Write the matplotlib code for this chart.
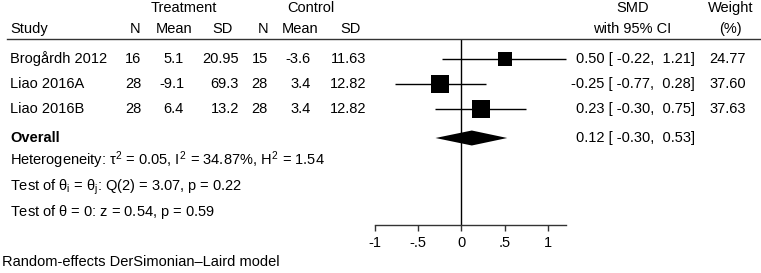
import numpy as np
import matplotlib
matplotlib.use('Agg')
import matplotlib.pyplot as plt
from matplotlib.patches import Polygon

### Data
studies = ['Brogårdh 2012', 'Liao 2016A', 'Liao 2016B']
trt_n = [16, 28, 28]
trt_mean = ['5.1', '-9.1', '6.4']
trt_sd = ['20.95', '69.3', '13.2']
ctl_n = [15, 28, 28]
ctl_mean = ['-3.6', '3.4', '3.4']
ctl_sd = ['11.63', '12.82', '12.82']
smd = [0.50, -0.25, 0.23]
ci_lo = [-0.22, -0.77, -0.30]
ci_hi = [1.21, 0.28, 0.75]
weight = [24.77, 37.60, 37.63]
overall = (0.12, -0.30, 0.53)
xticks = [-1, -0.5, 0, 0.5, 1]
xtick_labels = ['-1', '-.5', '0', '.5', '1']

het_txt = r'Heterogeneity: $\tau^2$ = 0.05, $I^2$ = 34.87%, $H^2$ = 1.54'
q_txt = r'Test of $\theta_i$ = $\theta_j$: Q(2) = 3.07, p = 0.22'
z_txt = r'Test of $\theta$ = 0: z = 0.54, p = 0.59'
foot_txt = 'Random-effects DerSimonian–Laird model'

### Layout (pixels)
W, H = 761, 273
row_y = [59, 84, 109]
ov_y = 138
fs = 10.5

plt.rcParams['font.family'] = ['Liberation Sans', 'DejaVu Sans']
plt.rcParams['mathtext.fontset'] = 'custom'
plt.rcParams['mathtext.rm'] = 'Liberation Sans'
plt.rcParams['mathtext.it'] = 'Liberation Sans'
plt.rcParams['mathtext.bf'] = 'Liberation Sans:bold'


def ftxt(fig, x, y, s, **kw):
    kw.setdefault('fontsize', fs)
    kw.setdefault('va', 'center')
    fig.text(x / W, 1 - y / H, s, **kw)


def main():
    fig = plt.figure(figsize=(W / 100, H / 100), dpi=100)

    ### Forest panel: x from -1 (px 375) to 1.21 (px 566), y from px 39 to 225
    x0, x1 = 375, 566
    y0, y1 = 39, 225
    ax = fig.add_axes([x0 / W, 1 - y1 / H, (x1 - x0) / W, (y1 - y0) / H])
    ax.set_xlim(-1, 1.21)
    ax.set_ylim(y1, y0)
    for sp in ['top', 'right', 'left']:
        ax.spines[sp].set_visible(False)
    ax.spines['bottom'].set_color('#333333')
    ax.spines['bottom'].set_linewidth(1.0)
    ax.set_yticks([])
    ax.set_xticks(xticks)
    ax.set_xticklabels(xtick_labels, fontsize=fs)
    ax.tick_params(axis='x', length=4, width=1.0, color='#333333', pad=4)
    ax.patch.set_visible(False)

    ax.axvline(0, color='black', lw=1.0, zorder=1)
    wmax = max(weight)
    for i in range(len(studies)):
        ax.plot([ci_lo[i], ci_hi[i]], [row_y[i]] * 2, color='black', lw=1.0,
                solid_capstyle='butt', clip_on=False, zorder=2)
        ms = 17.2 * np.sqrt(weight[i] / wmax) * 0.72
        ax.plot(smd[i], row_y[i], marker='s', ms=ms, color='black', mec='black',
                mew=0, clip_on=False, zorder=3)
    est, lo, hi = overall
    dh = 7.5
    ax.add_patch(Polygon([(lo, ov_y), (est, ov_y - dh), (hi, ov_y), (est, ov_y + dh)],
                         closed=True, color='black', lw=0, zorder=3, clip_on=False))

    ### Header line
    fig.add_artist(plt.Line2D([7 / W, 1], [1 - 39 / H] * 2, color='#333333', lw=1.0))

    ### Headers
    ftxt(fig, 184, 8, 'Treatment', ha='center')
    ftxt(fig, 311, 8, 'Control', ha='center')
    ftxt(fig, 10, 29, 'Study', ha='left')
    ftxt(fig, 140, 29, 'N', ha='right')
    ftxt(fig, 174, 29, 'Mean', ha='center')
    ftxt(fig, 223, 29, 'SD', ha='center')
    ftxt(fig, 268, 29, 'N', ha='right')
    ftxt(fig, 300, 29, 'Mean', ha='center')
    ftxt(fig, 351, 29, 'SD', ha='center')
    ftxt(fig, 633, 8, 'SMD', ha='center')
    ftxt(fig, 632, 29, 'with 95% CI', ha='center')
    ftxt(fig, 731, 8, 'Weight', ha='center')
    ftxt(fig, 730, 29, '(%)', ha='center')

    ### Study rows
    for i, s in enumerate(studies):
        y = row_y[i]
        ftxt(fig, 10, y, s, ha='left')
        ftxt(fig, 141, y, str(trt_n[i]), ha='right')
        ftxt(fig, 184, y, trt_mean[i], ha='right')
        ftxt(fig, 239, y, trt_sd[i], ha='right')
        ftxt(fig, 268, y, str(ctl_n[i]), ha='right')
        ftxt(fig, 311, y, ctl_mean[i], ha='right')
        ftxt(fig, 366, y, ctl_sd[i], ha='right')
        ftxt(fig, 695, y, '%.2f [ %.2f,  %.2f]' % (smd[i], ci_lo[i], ci_hi[i]), ha='right')
        ftxt(fig, 746, y, '%.2f' % weight[i], ha='right')

    ftxt(fig, 10, ov_y, 'Overall', ha='left', fontweight='bold')
    ftxt(fig, 695, ov_y, '%.2f [ %.2f,  %.2f]' % overall, ha='right')
    ftxt(fig, 10, 160, het_txt, ha='left')
    ftxt(fig, 10, 187, q_txt, ha='left')
    ftxt(fig, 10, 212, z_txt, ha='left')
    ftxt(fig, 2, 262, foot_txt, ha='left')

    fig.savefig('out.png', dpi=100, facecolor='white')


if __name__ == '__main__':
    main()
